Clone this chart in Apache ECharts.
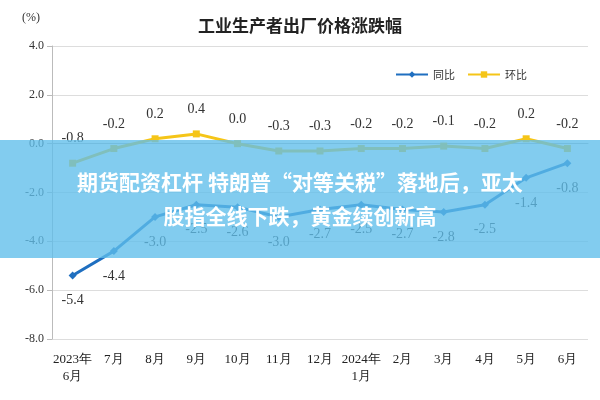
<!DOCTYPE html><html><head><meta charset="utf-8"><script src="https://cdn.jsdelivr.net/npm/echarts@6/dist/echarts.min.js"></script>
<style>body{margin:0}#c{width:600px;height:400px;position:relative}#b{position:absolute;left:0;top:140px;width:600px;height:118px;background:rgba(95,190,235,0.78);color:#fff;font:bold 21px "Noto Sans CJK SC";text-align:center;line-height:34px;padding-top:24px;box-sizing:border-box}</style></head><body>
<div id="c"></div><div id="b">期货配资杠杆 特朗普“对等关税”落地后，亚太<br>股指全线下跌，黄金续创新高</div>
<script>
const categories=['2023年\n6月','7月','8月','9月','10月','11月','12月','2024年\n1月','2月','3月','4月','5月','6月'];
const yoy=[-5.4,-4.4,-3.0,-2.5,-2.6,-3.0,-2.7,-2.5,-2.7,-2.8,-2.5,-1.4,-0.8];
const mom=[-0.8,-0.2,0.2,0.4,0.0,-0.3,-0.3,-0.2,-0.2,-0.1,-0.2,0.2,-0.2];
const c=echarts.init(document.getElementById('c'));
const f='Liberation Serif';
c.setOption({animation:false,
title:{text:'工业生产者出厂价格涨跌幅',left:'center',top:12,textStyle:{fontFamily:'Noto Sans CJK SC',fontSize:17,fontWeight:'bold',color:'#222'}},
graphic:[{type:'text',left:22,top:12,style:{text:'(%)',font:'12px "Liberation Serif"',fill:'#333'}}],
legend:{top:64,right:68,itemWidth:32,itemHeight:8,itemGap:12,textStyle:{fontFamily:'Noto Sans CJK SC',fontSize:11,color:'#333'},data:['同比','环比']},
grid:{left:52,right:12,top:46,bottom:61},
xAxis:{type:'category',data:categories,axisTick:{show:false},axisLine:{lineStyle:{color:'#bbb'}},axisLabel:{fontFamily:f,fontSize:13,color:'#222',interval:0,margin:12,lineHeight:17}},
yAxis:{type:'value',min:-8,max:4,interval:2,axisLine:{show:true,lineStyle:{color:'#bbb'}},axisTick:{show:true,lineStyle:{color:'#bbb'}},splitLine:{lineStyle:{color:'#ddd'}},axisLabel:{fontFamily:f,fontSize:12,color:'#333',formatter:v=>v.toFixed(1)}},
series:[
{name:'同比',type:'line',data:yoy,symbol:'diamond',symbolSize:8,itemStyle:{color:'#1f6fc0'},lineStyle:{width:3},label:{show:true,position:'bottom',distance:14,fontFamily:f,fontSize:14,color:'#333',formatter:p=>p.value.toFixed(1)}},
{name:'环比',type:'line',data:mom,symbol:'rect',symbolSize:7,itemStyle:{color:'#f5c518'},lineStyle:{width:3},label:{show:true,position:'top',distance:14,fontFamily:f,fontSize:14,color:'#333',formatter:p=>p.value.toFixed(1)}}
]});
</script></body></html>
